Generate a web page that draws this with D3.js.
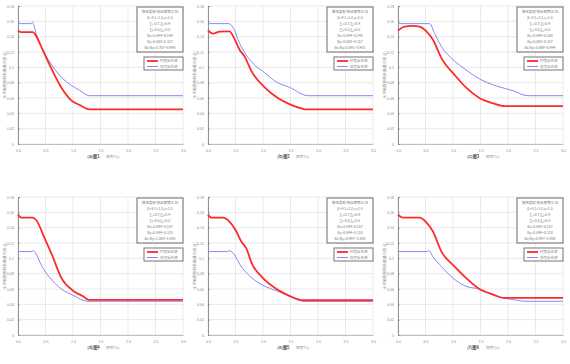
<!DOCTYPE html>
<html>
<head>
<meta charset="utf-8">
<script src="https://cdn.jsdelivr.net/npm/d3@7"></script>
<style>
  body { margin: 0; background: #fff; }
  svg { display: block; font-family: "Noto Sans CJK SC", "Noto Sans", sans-serif; }
</style>
</head>
<body>
<svg id="chart" width="570" height="364"></svg>
<script>
var xTicks = [0, 0.5, 1.0, 1.5, 2.0, 2.5, 3.0];
var yTicks = [0, 0.02, 0.04, 0.06, 0.08, 0.1, 0.12, 0.14, 0.16, 0.18];

var seriesNames = ['时程反应谱', '规范反应谱'];
var panelCaptions = ['(a)图1', '(b)图2', '(c)图3', '(d)图4', '(e)图5', '(f)图6'];

var infoTop = ['场地类别 特征周期:0.35', 'β=4.1=1.2,γ=1.5', 'ξ₁=0.7,ξ₂=0.9', 'ξ₃=0.5,ξ₄=0.5'];
var infoBottom = [
    ['Bx=0.044~0.148', 'By=0.063~0.157', 'Bx/By=0.707~0.998'],
    ['Bx=0.044~0.148', 'By=0.063~0.157', 'Bx/By=0.691~0.981'],
    ['Bx=0.049~0.154', 'By=0.063~0.157', 'Bx/By=0.689~0.999'],
    ['Bx=0.044~0.157', 'By=0.044~0.110', 'Bx/By=1.004~1.400'],
    ['Bx=0.044~0.157', 'By=0.044~0.110', 'Bx/By=0.997~1.400'],
    ['Bx=0.048~0.157', 'By=0.044~0.110', 'Bx/By=0.997~1.400']
];

// [T, value] pairs
var red1 = [[0,0.148],[0.05,0.146],[0.27,0.146],[0.32,0.142],[0.45,0.1226],[0.576,0.103],[0.79,0.0735],[0.97,0.057],[1.12,0.0509],[1.30,0.0452],[3.0,0.0452]];
var blue1 = [[0,0.157],[0.24,0.157],[0.26,0.159],[0.28,0.157],[0.33,0.144],[0.45,0.1226],[0.576,0.107],[0.79,0.087],[0.97,0.0765],[1.12,0.070],[1.30,0.063],[3.0,0.063]];
var red2 = [[0,0.148],[0.09,0.144],[0.21,0.1465],[0.39,0.147],[0.485,0.1365],[0.576,0.1226],[0.667,0.114],[0.79,0.095],[1.03,0.074],[1.27,0.060],[1.48,0.052],[1.73,0.0457],[1.76,0.0452],[3.0,0.0452]];
var blue2 = [[0,0.157],[0.38,0.157],[0.455,0.152],[0.576,0.131],[0.82,0.105],[1.03,0.093],[1.24,0.081],[1.48,0.074],[1.82,0.063],[3.0,0.063]];
var red3 = [[0,0.148],[0.12,0.153],[0.27,0.154],[0.39,0.153],[0.515,0.147],[0.636,0.136],[0.79,0.112],[1.03,0.090],[1.24,0.0735],[1.48,0.060],[1.73,0.053],[1.94,0.0493],[3.0,0.0493]];
var blue3 = [[0,0.157],[0.576,0.157],[0.667,0.144],[0.79,0.127],[1.0,0.110],[1.24,0.0965],[1.48,0.085],[1.79,0.0757],[2.09,0.0696],[2.36,0.063],[3.0,0.063]];
var red4 = [[0,0.157],[0.06,0.153],[0.27,0.153],[0.33,0.150],[0.485,0.126],[0.606,0.1066],[0.79,0.0742],[1.0,0.0578],[1.18,0.0505],[1.29,0.0457],[3.0,0.0457]];
var blue4 = [[0,0.1088],[0.24,0.1088],[0.27,0.110],[0.33,0.1057],[0.42,0.0915],[0.576,0.075],[0.79,0.060],[1.0,0.0518],[1.27,0.044],[3.0,0.044]];
var red5 = [[0,0.157],[0.06,0.153],[0.27,0.153],[0.39,0.148],[0.515,0.135],[0.606,0.122],[0.697,0.113],[0.79,0.0945],[1.0,0.0742],[1.27,0.059],[1.48,0.051],[1.73,0.0453],[3.0,0.0453]];
var blue5 = [[0,0.1088],[0.36,0.1088],[0.38,0.110],[0.485,0.1044],[0.576,0.0924],[0.79,0.075],[1.0,0.0647],[1.27,0.057],[1.48,0.0505],[1.73,0.044],[3.0,0.044]];
var red6 = [[0,0.157],[0.09,0.153],[0.39,0.153],[0.515,0.147],[0.636,0.135],[0.79,0.1088],[1.03,0.0893],[1.24,0.0742],[1.48,0.060],[1.73,0.0527],[1.94,0.0483],[3.0,0.0483]];
var blue6 = [[0,0.1088],[0.515,0.1088],[0.56,0.110],[0.636,0.102],[0.79,0.0893],[1.0,0.0742],[1.24,0.0634],[1.48,0.060],[1.79,0.0505],[2.09,0.0462],[2.33,0.044],[3.0,0.044]];

var redSeries = [red1, red2, red3, red4, red5, red6];
var blueSeries = [blue1, blue2, blue3, blue4, blue5, blue6];

var RED = '#ff2a2a', BLUE = '#8787f5';

var svg = d3.select('#chart');

function drawPanel(i) {
    var col = i % 3, row = Math.floor(i / 3);
    var left = col * 190 + 18, right = left + 165;
    var top = row === 0 ? 6 : 197, bottom = top + 138;

    var x = d3.scaleLinear().domain([0, 3]).range([left, right]);
    var y = d3.scaleLinear().domain([0, 0.18]).range([bottom, top]);

    var g = svg.append('g');

    // grid
    g.selectAll('.gx').data(xTicks).enter().append('line')
        .attr('x1', function(d) { return x(d); }).attr('x2', function(d) { return x(d); })
        .attr('y1', top).attr('y2', bottom)
        .attr('stroke', '#dcdcdc').attr('stroke-width', 0.6);
    g.selectAll('.gy').data(yTicks).enter().append('line')
        .attr('x1', left).attr('x2', right)
        .attr('y1', function(d) { return y(d); }).attr('y2', function(d) { return y(d); })
        .attr('stroke', '#dcdcdc').attr('stroke-width', 0.6);

    // axes
    var yAxis = d3.axisLeft(y).tickValues(yTicks).tickSize(-2).tickPadding(4)
        .tickFormat(function(d) { return d === 0 ? '0' : d3.format('.2~f')(d); });
    var ya = g.append('g').attr('transform', 'translate(' + left + ',0)').call(yAxis);
    ya.select('.domain').attr('stroke', '#777').attr('stroke-width', 0.8);
    ya.selectAll('.tick line').attr('stroke', '#777').attr('stroke-width', 0.5);
    ya.selectAll('text').attr('font-size', 3.6).attr('fill', '#888');

    var xAxis = d3.axisBottom(x).tickValues(xTicks).tickSize(0).tickPadding(5)
        .tickFormat(d3.format('.1f'));
    var xa = g.append('g').attr('transform', 'translate(0,' + bottom + ')').call(xAxis);
    xa.select('.domain').attr('stroke', '#999').attr('stroke-width', 0.6);
    xa.selectAll('text').attr('font-size', 3.6).attr('fill', '#888');

    // axis titles
    g.append('text')
        .attr('transform', 'translate(' + (left - 12) + ',' + ((top + bottom) / 2) + ') rotate(-90)')
        .attr('text-anchor', 'middle').attr('font-size', 3.8).attr('fill', '#888')
        .text('水平地震影响系数最大值 (g)');
    g.append('text')
        .attr('x', x(1.26)).attr('y', bottom + 14)
        .attr('font-size', 4.2).attr('font-weight', 'bold').attr('fill', '#555')
        .text(panelCaptions[i]);
    g.append('text')
        .attr('x', x(1.6)).attr('y', bottom + 14)
        .attr('font-size', 3.6).attr('fill', '#999')
        .text('周期T(s)');

    // curves
    var line = d3.line()
        .x(function(d) { return x(d[0]); })
        .y(function(d) { return y(d[1]); })
        .curve(d3.curveMonotoneX);
    g.append('path').datum(blueSeries[i])
        .attr('fill', 'none').attr('stroke', BLUE).attr('stroke-width', 1)
        .attr('d', line);
    g.append('path').datum(redSeries[i])
        .attr('fill', 'none').attr('stroke', RED).attr('stroke-width', 1.8)
        .attr('d', line);

    // info box
    var bx = right - 46, by = top + 1, bw = 46, bh = 45;
    g.append('rect').attr('x', bx).attr('y', by).attr('width', bw).attr('height', bh)
        .attr('fill', '#fff').attr('stroke', '#777').attr('stroke-width', 1.1);
    var lines = infoTop.concat(infoBottom[i]);
    g.selectAll('.info').data(lines).enter().append('text')
        .attr('x', bx + bw / 2)
        .attr('y', function(d, k) { return by + 6 + k * 6; })
        .attr('text-anchor', 'middle').attr('font-size', 3.5).attr('fill', '#777')
        .text(function(d) { return d; });

    // legend
    var lx = right - 39, ly = top + 51;
    g.append('rect').attr('x', lx).attr('y', ly).attr('width', 39).attr('height', 13)
        .attr('fill', '#fff').attr('stroke', '#777').attr('stroke-width', 1);
    [[RED, 1.8], [BLUE, 1]].forEach(function(s, k) {
        var yy = ly + 4 + k * 5.5;
        g.append('line').attr('x1', lx + 3).attr('x2', lx + 14)
            .attr('y1', yy).attr('y2', yy)
            .attr('stroke', s[0]).attr('stroke-width', s[1]);
        g.append('text').attr('x', lx + 16).attr('y', yy + 1.3)
            .attr('font-size', 3.5).attr('fill', '#888')
            .text(seriesNames[k]);
    });
}

for (var i = 0; i < 6; i++) drawPanel(i);
</script>
</body>
</html>
